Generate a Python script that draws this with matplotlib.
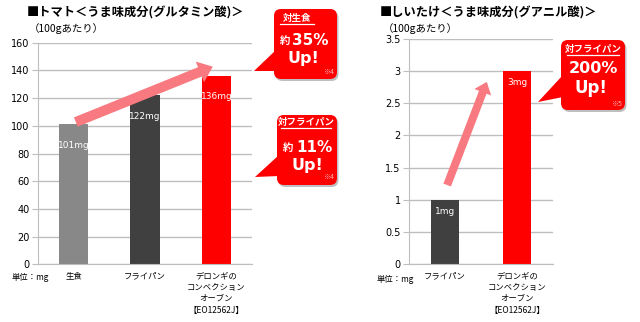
import numpy as np
import matplotlib
matplotlib.use("Agg")
import matplotlib.pyplot as plt
from matplotlib.patches import FancyBboxPatch, Polygon

plt.rcParams['font.family'] = ['Noto Sans CJK JP', 'DejaVu Sans']

# トマト (グルタミン酸, mg / 100g)
tomato_cats = ['生食', 'フライパン', 'デロンギの\nコンベクション\nオーブン\n【EO12562J】']
tomato_vals = [101, 122, 136]
tomato_colors = ['#888888', '#404040', '#FF0000']

# しいたけ (グアニル酸, mg / 100g)
shiitake_cats = ['フライパン', 'デロンギの\nコンベクション\nオーブン\n【EO12562J】']
shiitake_vals = [1, 3]
shiitake_colors = ['#404040', '#FF0000']

W, H = 640, 322
fig = plt.figure(figsize=(W / 100, H / 100), dpi=100)
fig.patch.set_facecolor('white')

grid_c = '#BEBEBE'
arrow_c = '#F87A80'


def style_axes(ax):
    ax.grid(axis='y', color=grid_c, lw=1.0)
    ax.set_axisbelow(True)
    for s in ['top', 'right']:
        ax.spines[s].set_visible(False)
    ax.spines['left'].set_color(grid_c)
    ax.spines['bottom'].set_color(grid_c)
    ax.tick_params(axis='y', length=4, color=grid_c, labelsize=7, pad=2)
    ax.tick_params(axis='x', length=0, labelsize=6, pad=5)
    for lab in ax.get_yticklabels():
        lab.set_fontfamily('DejaVu Sans')


def bar_labels(ax, vals, offset):
    for i, v in enumerate(vals):
        ax.text(i, v - offset, f'{v}mg', color='white', ha='center', va='center',
                fontsize=6.5, family='DejaVu Sans')


# left chart
ax1 = fig.add_axes([38 / W, 1 - 264.3 / H, 214 / W, 221.6 / H])
ax1.bar(range(3), tomato_vals, width=0.41, color=tomato_colors)
ax1.set_xlim(-0.5, 2.5)
ax1.set_ylim(0, 160)
ax1.set_yticks(np.arange(0, 161, 20))
ax1.set_xticks(range(3))
ax1.set_xticklabels(tomato_cats, linespacing=1.35, va='top')
style_axes(ax1)
bar_labels(ax1, tomato_vals, 15)
ax1.annotate('', xy=(1.95, tomato_vals[2] + 6.7), xytext=(0.03, tomato_vals[0] + 1.7),
             arrowprops=dict(arrowstyle='simple,tail_width=0.72,head_width=1.6,head_length=1.0',
                             mutation_scale=10, color=arrow_c, lw=0, shrinkA=0, shrinkB=0),
             annotation_clip=False)

# right chart
ax2 = fig.add_axes([409 / W, 1 - 264.3 / H, 144 / W, 225.6 / H])
ax2.bar(range(2), shiitake_vals, width=0.40, color=shiitake_colors)
ax2.set_xlim(-0.5, 1.5)
ax2.set_ylim(0, 3.5)
ax2.set_yticks(np.arange(0, 3.6, 0.5))
ax2.set_yticklabels(['0', '0.5', '1', '1.5', '2', '2.5', '3', '3.5'])
ax2.set_xticks(range(2))
ax2.set_xticklabels(shiitake_cats, linespacing=1.35, va='top')
style_axes(ax2)
bar_labels(ax2, shiitake_vals, 0.18)
ax2.annotate('', xy=(0.58, 2.83), xytext=(0.03, 1.23),
             arrowprops=dict(arrowstyle='simple,tail_width=0.58,head_width=1.3,head_length=0.8',
                             mutation_scale=10, color=arrow_c, lw=0, shrinkA=0, shrinkB=0),
             annotation_clip=False)

# overlay in pixel coordinates for titles and callouts
ov = fig.add_axes([0, 0, 1, 1], zorder=10)
ov.set_xlim(0, W)
ov.set_ylim(H, 0)
ov.axis('off')
ov.patch.set_alpha(0)

ov.text(27, 13, '■トマト＜うま味成分(グルタミン酸)＞', fontsize=8.8, fontweight='bold',
        va='center', ha='left')
ov.text(29, 29, '（100gあたり）', fontsize=7.5, va='center', ha='left')
ov.text(380, 13, '■しいたけ＜うま味成分(グアニル酸)＞', fontsize=8.8, fontweight='bold',
        va='center', ha='left')
ov.text(383, 29, '（100gあたり）', fontsize=7.5, va='center', ha='left')
ov.text(12, 277, '単位：mg', fontsize=6, va='center', ha='left')
ov.text(377, 279, '単位：mg', fontsize=6, va='center', ha='left')


def callout(x0, y0, x1, y1, tip, base):
    # shadow then box and pointer
    sh = FancyBboxPatch((x0 + 1.5, y0 + 2), x1 - x0, y1 - y0,
                        boxstyle='round,pad=0,rounding_size=7', fc='#000000', alpha=0.25, lw=0)
    ov.add_patch(sh)
    box = FancyBboxPatch((x0, y0), x1 - x0, y1 - y0,
                         boxstyle='round,pad=0,rounding_size=7', fc='#FF0000', lw=0)
    ov.add_patch(box)
    ov.add_patch(Polygon([tip, base[0], base[1]], closed=True, fc='#FF0000', lw=0))


def head(cx, y, s, x_start, x_end):
    ov.text(cx, y, s, color='white', fontsize=6.8, fontweight='bold', ha='center', va='center')
    ov.plot([x_start, x_end], [y + 6, y + 6], color='white', lw=0.9)


big = dict(color='white', fontweight='bold', va='center', family='DejaVu Sans')
yaku = dict(color='white', fontsize=7.5, fontweight='bold', ha='center', va='center')
note = dict(color='#FFB0B0', fontsize=5, ha='right', va='center')

callout(274, 9, 337, 79, (254, 71), [(276, 50), (276, 71)])
head(297, 18, '対生食', 280, 314)
ov.text(285, 41, '約', **yaku)
ov.text(292, 40, '35%', fontsize=11, ha='left', **big)
ov.text(303, 58, 'Up!', fontsize=11.5, ha='center', **big)
ov.text(334, 72, '※4', **note)

callout(277, 115, 337, 185, (255, 177), [(279, 155), (279, 176)])
head(306, 122, '対フライパン', 281, 331)
ov.text(288, 148, '約', **yaku)
ov.text(296, 147, '11%', fontsize=11, ha='left', **big)
ov.text(307, 165, 'Up!', fontsize=11.5, ha='center', **big)
ov.text(334, 177, '※4', **note)

callout(561, 40, 625, 110, (538, 102), [(563, 75), (563, 97)])
head(593, 49, '対フライパン', 567, 619)
ov.text(593, 68, '200%', fontsize=11.5, ha='center', **big)
ov.text(591, 88, 'Up!', fontsize=12, ha='center', **big)
ov.text(622, 104, '※5', **note)

fig.savefig('out.png', dpi=100)
